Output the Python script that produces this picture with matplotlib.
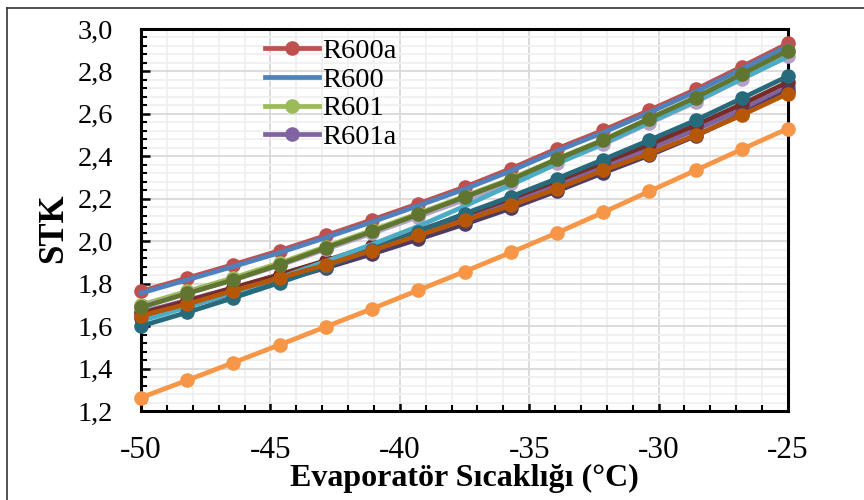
import matplotlib
matplotlib.use("Agg")
import matplotlib.pyplot as plt
from matplotlib.ticker import MultipleLocator, FuncFormatter
from matplotlib.lines import Line2D

plt.rcParams.update({
    'font.family': ['Liberation Serif', 'DejaVu Serif'],
    'axes.unicode_minus': False,
    'figure.dpi': 100,
})

# Evaporator temperatures (°C)
temps = [-50.0, -48.21, -46.43, -44.64, -42.86, -41.07, -39.29, -37.5,
         -35.71, -33.93, -32.14, -30.36, -28.57, -26.79, -25.0]

# COP (STK) values
r600a = [1.764, 1.827, 1.890, 1.956, 2.027, 2.101, 2.177, 2.255, 2.342, 2.436, 2.523, 2.617, 2.715, 2.822, 2.932]
r600 = [1.756, 1.818, 1.881, 1.946, 2.017, 2.091, 2.167, 2.245, 2.331, 2.425, 2.512, 2.606, 2.704, 2.811, 2.920]
r601 = [1.700, 1.764, 1.828, 1.898, 1.975, 2.052, 2.131, 2.212, 2.294, 2.388, 2.478, 2.578, 2.677, 2.786, 2.896]
r601a = [1.665, 1.722, 1.781, 1.842, 1.905, 1.970, 2.039, 2.111, 2.186, 2.266, 2.352, 2.435, 2.524, 2.621, 2.725]
s_cyan = [1.625, 1.690, 1.757, 1.828, 1.905, 1.985, 2.070, 2.165, 2.265, 2.365, 2.460, 2.560, 2.660, 2.765, 2.870]
s_lorange = [1.263, 1.345, 1.428, 1.512, 1.597, 1.682, 1.769, 1.857, 1.947, 2.039, 2.136, 2.235, 2.334, 2.433, 2.531]
s_dred = [1.660, 1.718, 1.780, 1.843, 1.909, 1.978, 2.050, 2.124, 2.201, 2.284, 2.370, 2.456, 2.547, 2.645, 2.750]
s_olive = [1.688, 1.754, 1.818, 1.890, 1.969, 2.046, 2.126, 2.208, 2.290, 2.386, 2.476, 2.578, 2.677, 2.787, 2.898]
s_dpurple = [1.640, 1.694, 1.753, 1.813, 1.874, 1.940, 2.009, 2.080, 2.155, 2.236, 2.322, 2.405, 2.496, 2.598, 2.708]
s_teal = [1.600, 1.665, 1.733, 1.805, 1.880, 1.960, 2.045, 2.130, 2.210, 2.295, 2.385, 2.476, 2.570, 2.673, 2.778]
s_dorange = [1.649, 1.704, 1.767, 1.827, 1.889, 1.956, 2.027, 2.098, 2.169, 2.247, 2.334, 2.413, 2.499, 2.594, 2.696]
s_lpurple = [1.692, 1.755, 1.817, 1.886, 1.962, 2.037, 2.115, 2.195, 2.275, 2.368, 2.456, 2.556, 2.655, 2.764, 2.872]

# (values, colour, marker, legend label) in drawing order
series = [
    (r600a, '#C0504D', 'o', 'R600a'),
    (r601, '#9BBB59', 'o', 'R601'),
    (r601a, '#8064A2', 'o', 'R601a'),
    (s_dred, '#772C2A', 'o', None),
    (s_dpurple, '#4D3B62', 'o', None),
    (s_lpurple, '#B3A2C7', 'o', None),
    (s_cyan, '#4BACC6', None, None),
    (r600, '#4F81BD', None, 'R600'),
    (s_lorange, '#F79646', 'o', None),
    (s_teal, '#276A7C', 'o', None),
    (s_dorange, '#B65708', 'o', None),
    (s_olive, '#5F7530', 'o', None),
]

fig = plt.figure(figsize=(8.64, 5.0))
ax = fig.add_axes([141 / 864, 1 - 411 / 500, (788 - 141) / 864, (411 - 29) / 500])

handles = {}
for i, (vals, col, mk, lab) in enumerate(series):
    ln, = ax.plot(temps, vals, color=col, lw=3.4, marker=mk, markersize=10.5,
                  markeredgewidth=0, zorder=3 + i * 0.1, clip_on=False)
    if lab:
        handles[lab] = ln

ax.set_xlim(-50, -25)
ax.set_ylim(1.2, 3.0)
ax.xaxis.set_major_locator(MultipleLocator(5))
ax.xaxis.set_minor_locator(MultipleLocator(1))
ax.yaxis.set_major_locator(MultipleLocator(0.2))
ax.yaxis.set_minor_locator(MultipleLocator(0.04))
ax.yaxis.set_major_formatter(FuncFormatter(lambda v, p: f"{v:.1f}".replace('.', ',')))

ax.grid(which='major', color='#D9D9D9', lw=1.3)
ax.grid(which='minor', color='#F0F0F0', lw=1.3)
ax.set_axisbelow(True)

for sp in ax.spines.values():
    sp.set_linewidth(2.2)
    sp.set_color('black')

ax.tick_params(axis='both', which='major', direction='in', length=6.5, width=1.8,
               top=False, right=False)
ax.tick_params(axis='both', which='minor', direction='in', length=4.5, width=1.5,
               top=False, right=False)
ax.tick_params(axis='x', which='major', labelsize=22.5, pad=18)
ax.tick_params(axis='y', which='major', labelsize=20.5, pad=20)

ax.set_xlabel('Evaporatör Sıcaklığı (°C)', fontsize=23, fontweight='bold', labelpad=-1)
ax.set_ylabel('STK', fontsize=25, fontweight='bold')
ax.yaxis.set_label_coords(-0.11, 0.478)

order = ['R600a', 'R600', 'R601', 'R601a']
ax.legend([handles[k] for k in order], order, loc='upper left',
          bbox_to_anchor=((265 - 141) / 647, 1 - 9 / 382), frameon=False,
          fontsize=20.5, handlelength=1.9, handletextpad=0.1, labelspacing=0.1,
          borderpad=0, borderaxespad=0)

# outer chart border (only top and left visible in the reference)
fig.add_artist(Line2D([7 / 864, 7 / 864], [0, 1 - 8 / 500], color='#333333', lw=1.2))
fig.add_artist(Line2D([7 / 864, 1], [1 - 8 / 500, 1 - 8 / 500], color='#333333', lw=1.2))

fig.savefig('out.png', dpi=100)
